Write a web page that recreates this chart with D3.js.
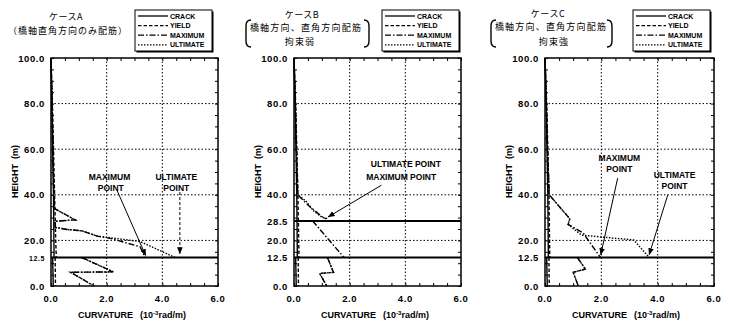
<!DOCTYPE html>
<html>
<head>
<meta charset="utf-8">
<script src="https://cdn.jsdelivr.net/npm/d3@7"></script>
<style>
    body { margin: 0; background: #fff; }
    svg text { font-family: "Liberation Sans", Arial, sans-serif; font-weight: bold; fill: #000; }
    svg text.jp { font-family: "Noto Sans CJK JP", sans-serif; font-weight: normal; }
</style>
</head>
<body>
<svg id="chart" width="729" height="321"></svg>
<script>
//Axis values
const curvatureTicks = [0, 2, 4, 6];
const gridCurvature  = [2, 4];
const gridHeight     = [20, 40, 60, 80];
const heightTicksA   = [0, 12.5, 20, 40, 60, 80, 100];
const heightTicksB   = [0, 12.5, 20, 28.5, 40, 60, 80, 100];
const heightTicksC   = [0, 12.5, 20, 40, 60, 80, 100];
const sectionLinesA  = [12.5];
const sectionLinesB  = [12.5, 28.5];
const sectionLinesC  = [12.5];
const seriesNames    = ['CRACK', 'YIELD', 'MAXIMUM', 'ULTIMATE'];

//Series: list of segments, each point is [curvature (10^-3 rad/m), height (m)]
const crackA = [[[0, 100], [0.03, 80], [0.06, 60], [0.09, 40], [0.11, 12.5]], [[0.06, 12.5], [0.08, 0]]];
const yieldA = [[[0, 100], [0.05, 80], [0.09, 60], [0.13, 40], [0.17, 20], [0.19, 12.5]], [[0.15, 12.5], [0.16, 0]]];
const maxA   = [[[0, 100], [0.04, 80], [0.07, 60], [0.1, 40], [0.12, 34], [0.87, 29], [0.15, 28.4], [0.15, 25.7],
                 [0.57, 24.8], [1.11, 24.2], [1.65, 21.9], [2.13, 20.9], [3.2, 17.2], [3.38, 12.5]],
                [[1.1, 12.5], [2.24, 6.2], [0.7, 6.0], [1.55, 0]]];
const ultA   = [[[0, 100], [0.04, 80], [0.07, 60], [0.1, 40], [0.12, 34], [0.87, 29], [0.15, 28.4], [0.15, 25.7],
                 [0.57, 24.8], [1.11, 24.2], [1.65, 21.9], [3.2, 19.5], [4.46, 12.5]],
                [[1.1, 12.5], [2.24, 6.2], [0.7, 6.0], [1.55, 0]]];

const crackB = [[[0, 100], [0.04, 80], [0.07, 60], [0.1, 40], [0.12, 12.5]], [[0.06, 12.5], [0.08, 0]]];
const yieldB = [[[0, 100], [0.06, 80], [0.1, 60], [0.14, 40], [0.18, 12.5]], [[0.15, 12.5], [0.16, 0]]];
const maxB   = [[[0, 100], [0.05, 80], [0.09, 60], [0.13, 40], [0.55, 35], [1.05, 30], [1.15, 29.5]],
                [[0.67, 28.5], [1.8, 12.5]],
                [[1.2, 12.5], [1.42, 6.0], [0.92, 5.5], [1.18, 0]]];
const ultB   = [[[0, 100], [0.05, 80], [0.09, 60], [0.14, 40], [0.45, 37], [0.7, 33], [1.0, 30.2], [1.2, 29.5]],
                [[1.2, 12.5], [1.42, 6.0], [0.92, 5.5], [1.18, 0]]];

const crackC = [[[0, 100], [0.04, 80], [0.07, 60], [0.1, 40], [0.12, 12.5]], [[0.06, 12.5], [0.08, 0]]];
const yieldC = [[[0, 100], [0.06, 80], [0.1, 60], [0.14, 40], [0.17, 12.5]], [[0.14, 12.5], [0.15, 0]]];
const maxC   = [[[0, 100], [0.05, 80], [0.09, 60], [0.15, 40], [0.88, 29.5], [0.82, 27], [1.35, 23.3], [1.97, 12.5]],
                [[1.15, 12.5], [1.43, 7.4], [1.0, 6.0], [1.18, 0]]];
const ultC   = [[[0, 100], [0.05, 80], [0.09, 60], [0.15, 40], [0.88, 29.5], [0.82, 27], [1.3, 22.3], [3.15, 20.2], [3.7, 12.5]],
                [[1.15, 12.5], [1.43, 7.4], [1.0, 6.0], [1.18, 0]]];

//Annotations (data units): label lines, arrow tail -> head
const notesA = [
    {lines: [[2.1, 47.8, 'MAXIMUM'], [2.15, 43.0, 'POINT']], from: [2.37, 42.0], to: [3.4, 13.4], dash: null},
    {lines: [[4.5, 47.8, 'ULTIMATE'], [4.5, 43.0, 'POINT']], from: [4.63, 41.2], to: [4.63, 14.2], dash: '3,2'}
];
const notesB = [
    {lines: [[4.02, 53.5, 'ULTIMATE POINT'], [3.85, 47.6, 'MAXIMUM POINT']], from: [3.14, 44.2], to: [1.23, 30.3], dash: null}
];
const notesC = [
    {lines: [[2.64, 56.2, 'MAXIMUM'], [2.64, 51.4, 'POINT']], from: [2.58, 47.3], to: [1.98, 13.8], dash: null},
    {lines: [[4.6, 48.5, 'ULTIMATE'], [4.6, 44.0, 'POINT']], from: [4.36, 40.0], to: [3.7, 13.8], dash: null}
];

const dashes = {CRACK: null, YIELD: '3.5,2', MAXIMUM: '6,2,1.5,2', ULTIMATE: '1.5,1.5'};

let svg = d3.select('#chart');

svg.append('defs').append('marker')
    .attr('id', 'arrow')
    .attr('viewBox', '0 0 10 10')
    .attr('refX', 9).attr('refY', 5)
    .attr('markerWidth', 7).attr('markerHeight', 7)
    .attr('markerUnits', 'userSpaceOnUse')
    .attr('orient', 'auto')
    .append('path')
    .attr('d', 'M0,1 L10,5 L0,9 Z')
    .attr('fill', '#000');

function bracket(g, x, top, bottom, dir) {
    //dir = 1 for "(", -1 for ")"
    let w = 5 * dir;
    g.append('path')
        .attr('d', `M${x + w},${top} Q${x},${top} ${x},${top + 6} L${x},${bottom - 6} Q${x},${bottom} ${x + w},${bottom}`)
        .attr('fill', 'none')
        .attr('stroke', '#000')
        .attr('stroke-width', 1.4);
}

function drawPanel(p) {
    let x = d3.scaleLinear().domain([0, 6]).range([p.left, p.right]);
    let y = d3.scaleLinear().domain([0, 100]).range([p.bottom, p.top]);
    let g = svg.append('g');

    //grid
    g.selectAll('.vgrid').data(gridCurvature).join('line')
        .attr('x1', d => x(d)).attr('x2', d => x(d))
        .attr('y1', p.top).attr('y2', p.bottom)
        .attr('stroke', '#000').attr('stroke-width', 1).attr('stroke-dasharray', '1.5,2');
    g.selectAll('.hgrid').data(gridHeight).join('line')
        .attr('x1', p.left).attr('x2', p.right)
        .attr('y1', d => y(d)).attr('y2', d => y(d))
        .attr('stroke', '#000').attr('stroke-width', 1).attr('stroke-dasharray', '1.5,2');

    //axes with inward minor ticks
    let minorX = d3.range(0, 6.01, 0.5);
    let minorY = d3.range(0, 100.1, 5);
    g.append('g').attr('transform', `translate(0,${p.bottom})`)
        .call(d3.axisTop(x).tickValues(minorX).tickSize(3).tickFormat(''))
        .call(a => a.select('.domain').remove());
    g.append('g').attr('transform', `translate(0,${p.top})`)
        .call(d3.axisBottom(x).tickValues(minorX).tickSize(3).tickFormat(''))
        .call(a => a.select('.domain').remove());
    g.append('g').attr('transform', `translate(${p.left},0)`)
        .call(d3.axisRight(y).tickValues(minorY).tickSize(3).tickFormat(''))
        .call(a => a.select('.domain').remove());
    g.append('g').attr('transform', `translate(${p.right},0)`)
        .call(d3.axisLeft(y).tickValues(minorY).tickSize(3).tickFormat(''))
        .call(a => a.select('.domain').remove());
    g.selectAll('.tick line').attr('stroke-width', 1);

    //tick labels
    g.selectAll('.xlab').data(curvatureTicks).join('text')
        .attr('x', d => x(d)).attr('y', p.bottom + 16)
        .attr('text-anchor', 'middle')
        .attr('font-size', 9.5).attr('letter-spacing', 0.6)
        .text(d => d.toFixed(1));
    g.selectAll('.ylab').data(p.heightTicks).join('text')
        .attr('x', p.left - 6).attr('y', d => y(d) + 3.5)
        .attr('text-anchor', 'end')
        .attr('font-size', d => (d == 12.5 && p.smallMid) ? 7 : 9.5)
        .attr('letter-spacing', 0.6)
        .text(d => d.toFixed(1));

    //axis titles
    let xt = g.append('text').attr('x', p.left + 27).attr('y', p.bottom + 32).attr('font-size', 9);
    xt.append('tspan').text('CURVATURE');
    xt.append('tspan').attr('dx', 7).text('(10');
    xt.append('tspan').attr('font-size', 6).attr('dy', -3.5).text('-3');
    xt.append('tspan').attr('dy', 3.5).text('rad/m)');
    let yt = g.append('text')
        .attr('transform', `translate(${p.left - 33},${p.bottom - 88}) rotate(-90)`)
        .attr('font-size', 9);
    yt.append('tspan').text('HEIGHT');
    yt.append('tspan').attr('dx', 5).text('(m)');

    //series
    let line = d3.line().x(d => x(d[0])).y(d => y(d[1]));
    p.series.forEach((segs, i) => {
        g.selectAll(null).data(segs).join('path')
            .attr('d', line)
            .attr('fill', 'none')
            .attr('stroke', '#000')
            .attr('stroke-width', 1.4)
            .attr('stroke-dasharray', dashes[seriesNames[i]]);
    });

    //section boundary lines
    g.selectAll('.sec').data(p.sections).join('line')
        .attr('x1', p.left).attr('x2', p.right)
        .attr('y1', d => y(d)).attr('y2', d => y(d))
        .attr('stroke', '#000').attr('stroke-width', 2);

    //frame
    g.append('rect')
        .attr('x', p.left).attr('y', p.top)
        .attr('width', p.right - p.left).attr('height', p.bottom - p.top)
        .attr('fill', 'none').attr('stroke', '#000').attr('stroke-width', 1.5);

    //annotations
    p.notes.forEach(n => {
        n.lines.forEach(l => {
            g.append('text')
                .attr('x', x(l[0])).attr('y', y(l[1]) + 3)
                .attr('text-anchor', 'middle')
                .attr('font-size', 8.5)
                .text(l[2]);
        });
        g.append('line')
            .attr('x1', x(n.from[0])).attr('y1', y(n.from[1]))
            .attr('x2', x(n.to[0])).attr('y2', y(n.to[1]))
            .attr('stroke', '#000').attr('stroke-width', 1)
            .attr('stroke-dasharray', n.dash)
            .attr('marker-end', 'url(#arrow)');
    });

    //legend
    let lg = g.append('g').attr('transform', `translate(${p.legendX},10)`);
    lg.append('rect').attr('x', 1.5).attr('y', 1.5).attr('width', 77).attr('height', 41).attr('fill', '#000');
    lg.append('rect').attr('x', 0).attr('y', 0).attr('width', 77).attr('height', 41)
        .attr('fill', '#fff').attr('stroke', '#000').attr('stroke-width', 1);
    seriesNames.forEach((name, i) => {
        let ly = 6 + i * 9.6;
        lg.append('line')
            .attr('x1', 3).attr('x2', 33).attr('y1', ly).attr('y2', ly)
            .attr('stroke', '#000').attr('stroke-width', 1.3)
            .attr('stroke-dasharray', dashes[name]);
        lg.append('text')
            .attr('x', 35).attr('y', ly + 2.6)
            .attr('font-size', 7)
            .text(name);
    });

    //title
    p.title.forEach(t => {
        g.append('text').attr('class', 'jp')
            .attr('x', t[0]).attr('y', t[1])
            .attr('text-anchor', 'middle')
            .attr('font-size', 9)
            .attr('letter-spacing', t[3] || 0)
            .text(t[2]);
    });
    if (p.brackets) {
        bracket(g, p.brackets[0], 20, 47, 1);
        bracket(g, p.brackets[1], 20, 47, -1);
    }
}

drawPanel({
    left: 51, right: 218, top: 58, bottom: 286,
    heightTicks: heightTicksA, smallMid: true, sections: sectionLinesA,
    series: [crackA, yieldA, maxA, ultA], notes: notesA, legendX: 135,
    title: [[66, 20, 'ケースA', 0.5], [68, 34, '（橋軸直角方向のみ配筋）', 1]]
});
drawPanel({
    left: 294, right: 461, top: 58, bottom: 286,
    heightTicks: heightTicksB, smallMid: false, sections: sectionLinesB,
    series: [crackB, yieldB, maxB, ultB], notes: notesB, legendX: 382,
    title: [[302, 18, 'ケースB', 0.5], [306, 30.5, '橋軸方向、直角方向配筋', 1.2], [300, 45, '拘束弱', 1.2]],
    brackets: [246, 369]
});
drawPanel({
    left: 545, right: 714, top: 58, bottom: 286,
    heightTicks: heightTicksC, smallMid: false, sections: sectionLinesC,
    series: [crackC, yieldC, maxC, ultC], notes: notesC, legendX: 633,
    title: [[548, 17, 'ケースC', 0.5], [551, 30, '橋軸方向、直角方向配筋', 1.2], [554, 44.5, '拘束強', 1.2]],
    brackets: [491, 612]
});
</script>
</body>
</html>
